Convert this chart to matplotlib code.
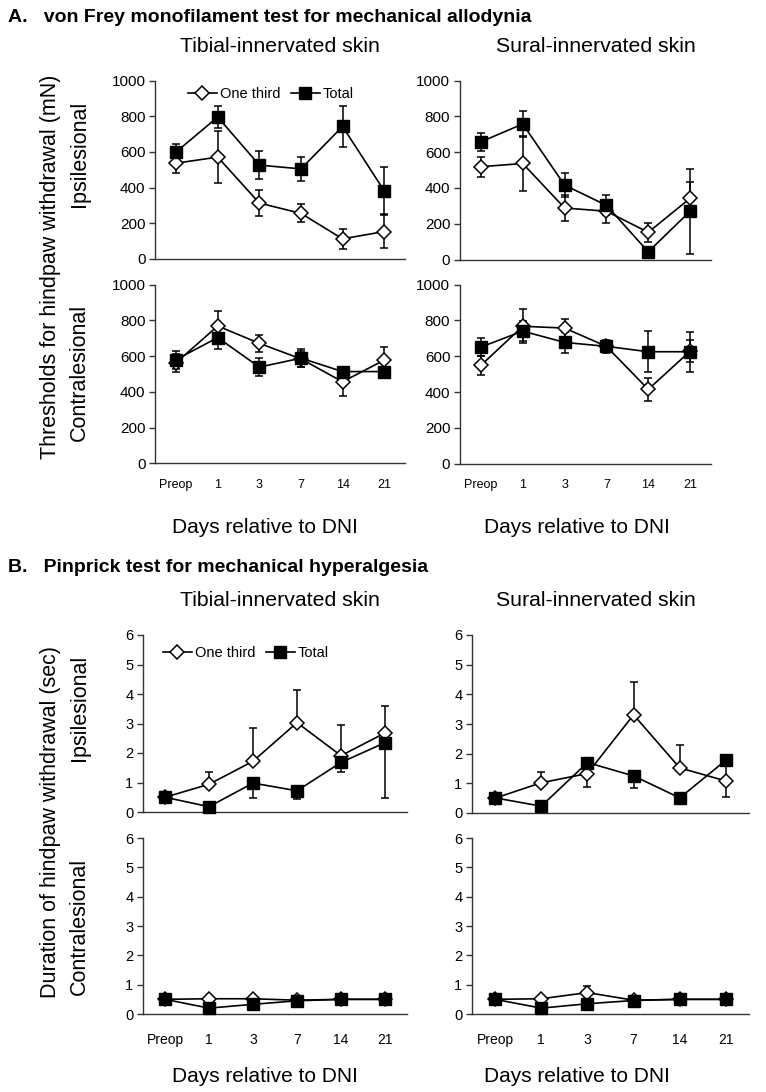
import numpy as np
import matplotlib
matplotlib.use("Agg")
import matplotlib.pyplot as plt
from matplotlib.lines import Line2D

plt.rcParams['font.family'] = ['Liberation Sans', 'DejaVu Sans']

# ---------------- data ----------------
x_labels = ["Preop", "1", "3", "7", "14", "21"]
series_names = ["One third", "Total"]

# A. von Frey (mN), symmetric SEM
a_tib_ipsi_third = [537, 571, 313, 255, 112, 153]
a_tib_ipsi_third_err = [56, 145, 71, 50, 56, 92]
a_tib_ipsi_total = [600, 796, 526, 505, 743, 382]
a_tib_ipsi_total_err = [47, 64, 77, 66, 116, 133]

a_sur_ipsi_third = [519, 537, 288, 270, 152, 342]
a_sur_ipsi_third_err = [56, 152, 74, 65, 52, 89]
a_sur_ipsi_total = [658, 758, 416, 303, 43, 270]
a_sur_ipsi_total_err = [52, 75, 68, 56, 0, 237]

a_tib_contra_third = [563, 768, 671, 584, 456, 577]
a_tib_contra_third_err = [50, 84, 49, 45, 78, 76]
a_tib_contra_total = [580, 703, 538, 588, 513, 513]
a_tib_contra_total_err = [50, 61, 52, 52, 0, 0]

a_sur_contra_third = [549, 767, 757, 655, 415, 628]
a_sur_contra_third_err = [54, 95, 52, 35, 65, 60]
a_sur_contra_total = [651, 740, 677, 655, 625, 625]
a_sur_contra_total_err = [50, 56, 60, 30, 113, 112]

# B. Pinprick (sec), visible error directions
b_tib_ipsi_third = [0.5, 0.94, 1.72, 3.03, 1.91, 2.68]
b_tib_ipsi_third_lo = [0, 0, 0, 0, 0, 0]
b_tib_ipsi_third_hi = [0, 0.42, 1.13, 1.1, 1.05, 0.9]
b_tib_ipsi_total = [0.5, 0.18, 0.98, 0.72, 1.68, 2.35]
b_tib_ipsi_total_lo = [0, 0, 0.51, 0.28, 0.34, 1.87]
b_tib_ipsi_total_hi = [0, 0, 0, 0, 0, 0]

b_sur_ipsi_third = [0.5, 1.02, 1.33, 3.31, 1.52, 1.08]
b_sur_ipsi_third_lo = [0, 0, 0.44, 0, 0, 0.55]
b_sur_ipsi_third_hi = [0, 0.37, 0.44, 1.11, 0.78, 0.5]
b_sur_ipsi_total = [0.51, 0.23, 1.7, 1.25, 0.51, 1.78]
b_sur_ipsi_total_lo = [0, 0, 0, 0.42, 0, 0]
b_sur_ipsi_total_hi = [0, 0, 0, 0, 0, 0]

b_tib_contra_third = [0.5, 0.52, 0.52, 0.47, 0.5, 0.5]
b_tib_contra_third_lo = [0, 0, 0, 0, 0, 0]
b_tib_contra_third_hi = [0, 0, 0, 0, 0, 0]
b_tib_contra_total = [0.5, 0.2, 0.33, 0.45, 0.5, 0.5]
b_tib_contra_total_lo = [0, 0, 0, 0, 0, 0]
b_tib_contra_total_hi = [0, 0, 0, 0, 0, 0]

b_sur_contra_third = [0.5, 0.52, 0.73, 0.47, 0.5, 0.5]
b_sur_contra_third_lo = [0, 0, 0, 0, 0, 0]
b_sur_contra_third_hi = [0, 0, 0.24, 0, 0, 0]
b_sur_contra_total = [0.5, 0.2, 0.35, 0.46, 0.5, 0.5]
b_sur_contra_total_lo = [0, 0, 0, 0, 0, 0]
b_sur_contra_total_hi = [0, 0, 0, 0, 0, 0]

a_yticks = [0, 200, 400, 600, 800, 1000]
b_yticks = [0, 1, 2, 3, 4, 5, 6]

# ---------------- figure ----------------
W, H = 766, 1092
fig = plt.figure(figsize=(W / 100, H / 100), dpi=100)
SPINE = '#333333'


def add_ax(x0, x1, ytop, ybot):
    return fig.add_axes([x0 / W, 1 - ybot / H, (x1 - x0) / W, (ybot - ytop) / H])


def ftext(x, y, s, **kw):
    fig.text(x / W, 1 - y / H, s, **kw)


def errbars(ax, x, y, lo, hi):
    x = np.asarray(x, float)
    y = np.asarray(y, float)
    lo = np.asarray(lo, float)
    hi = np.asarray(hi, float)
    m = lo > 0
    if m.any():
        ax.errorbar(x[m], y[m], yerr=[lo[m], np.zeros(m.sum())], fmt='none',
                    ecolor='black', elinewidth=1.1, capsize=3.2, capthick=1.1,
                    zorder=2, clip_on=False)
    m = hi > 0
    if m.any():
        ax.errorbar(x[m], y[m], yerr=[np.zeros(m.sum()), hi[m]], fmt='none',
                    ecolor='black', elinewidth=1.1, capsize=3.2, capthick=1.1,
                    zorder=2, clip_on=False)


def panel(ax, third, t_lo, t_hi, total, s_lo, s_hi, yticks, ymax,
          show_x, xfs, xpad, yfs):
    x = np.arange(len(x_labels))
    errbars(ax, x, third, t_lo, t_hi)
    errbars(ax, x, total, s_lo, s_hi)
    ax.plot(x, third, '-', color='black', lw=1.2, marker='D', ms=7.0,
            mfc='white', mec='black', mew=1.1, zorder=3, clip_on=False,
            label=series_names[0])
    ax.plot(x, total, '-', color='black', lw=1.2, marker='s', ms=8.4,
            mfc='black', mec='black', mew=1.0, zorder=4, clip_on=False,
            label=series_names[1])
    ax.set_xlim(-0.5, 5.5)
    ax.set_ylim(0, ymax)
    ax.set_yticks(yticks)
    ax.set_yticklabels([str(v) for v in yticks], fontsize=yfs)
    for s in ['top', 'right']:
        ax.spines[s].set_visible(False)
    for s in ['left', 'bottom']:
        ax.spines[s].set_color(SPINE)
        ax.spines[s].set_linewidth(1.0)
    ax.tick_params(axis='y', direction='out', length=4, width=1.0,
                   color=SPINE, pad=3, labelcolor='black')
    ax.set_xticks(x)
    if show_x:
        ax.set_xticklabels(x_labels, fontsize=xfs)
    else:
        ax.set_xticklabels([])
    ax.tick_params(axis='x', length=0, pad=xpad)


def legend(ax, x_frac, y_frac):
    h = [Line2D([], [], color='black', lw=1.2, marker='D', ms=7.0, mfc='white',
                mec='black', mew=1.1),
         Line2D([], [], color='black', lw=1.2, marker='s', ms=8.4, mfc='black',
                mec='black')]
    ax.legend(h, series_names, loc='center left', bbox_to_anchor=(x_frac, y_frac),
              ncol=2, frameon=False, fontsize=10.5, handlelength=2.0,
              handletextpad=0.2, columnspacing=0.7, borderaxespad=0,
              borderpad=0)


# Panel A axes
axA = [add_ax(155.3, 405, 80.7, 258.8), add_ax(460, 711, 80.7, 259.5),
       add_ax(155.3, 405, 284.5, 463.3), add_ax(460, 711, 284.5, 463.8)]
panel(axA[0], a_tib_ipsi_third, a_tib_ipsi_third_err, a_tib_ipsi_third_err,
      a_tib_ipsi_total, a_tib_ipsi_total_err, a_tib_ipsi_total_err,
      a_yticks, 1000, False, 9, 11, 11)
panel(axA[1], a_sur_ipsi_third, a_sur_ipsi_third_err, a_sur_ipsi_third_err,
      a_sur_ipsi_total, a_sur_ipsi_total_err, a_sur_ipsi_total_err,
      a_yticks, 1000, False, 9, 11, 11)
panel(axA[2], a_tib_contra_third, a_tib_contra_third_err, a_tib_contra_third_err,
      a_tib_contra_total, a_tib_contra_total_err, a_tib_contra_total_err,
      a_yticks, 1000, True, 9, 11, 11)
panel(axA[3], a_sur_contra_third, a_sur_contra_third_err, a_sur_contra_third_err,
      a_sur_contra_total, a_sur_contra_total_err, a_sur_contra_total_err,
      a_yticks, 1000, True, 9, 11, 11)
legend(axA[0], 0.13, 0.925)

# Panel B axes
axB = [add_ax(143, 407, 635, 812), add_ax(472, 749, 635, 813),
       add_ax(143, 407, 838, 1014), add_ax(472, 749, 838, 1014)]
panel(axB[0], b_tib_ipsi_third, b_tib_ipsi_third_lo, b_tib_ipsi_third_hi,
      b_tib_ipsi_total, b_tib_ipsi_total_lo, b_tib_ipsi_total_hi,
      b_yticks, 6, False, 10, 14, 10.5)
panel(axB[1], b_sur_ipsi_third, b_sur_ipsi_third_lo, b_sur_ipsi_third_hi,
      b_sur_ipsi_total, b_sur_ipsi_total_lo, b_sur_ipsi_total_hi,
      b_yticks, 6, False, 10, 14, 10.5)
panel(axB[2], b_tib_contra_third, b_tib_contra_third_lo, b_tib_contra_third_hi,
      b_tib_contra_total, b_tib_contra_total_lo, b_tib_contra_total_hi,
      b_yticks, 6, True, 10, 14, 10.5)
panel(axB[3], b_sur_contra_third, b_sur_contra_third_lo, b_sur_contra_third_hi,
      b_sur_contra_total, b_sur_contra_total_lo, b_sur_contra_total_hi,
      b_yticks, 6, True, 10, 14, 10.5)
legend(axB[0], 0.075, 0.9)

# ---------------- texts ----------------
ftext(8, 18, "A.   von Frey monofilament test for mechanical allodynia",
      fontsize=14, fontweight='bold', ha='left', va='center')
ftext(8, 567, "B.   Pinprick test for mechanical hyperalgesia",
      fontsize=14, fontweight='bold', ha='left', va='center')

for y in (47, 601):
    ftext(280, y, "Tibial-innervated skin", fontsize=15.3, ha='center', va='center')
    ftext(596, y, "Sural-innervated skin", fontsize=15.3, ha='center', va='center')

for y in (527, 1076):
    ftext(265, y, "Days relative to DNI", fontsize=15, ha='center', va='center')
    ftext(577, y, "Days relative to DNI", fontsize=15, ha='center', va='center')

ftext(51, 267, "Thresholds for hindpaw withdrawal (mN)", fontsize=15.5,
      rotation=90, ha='center', va='center')
ftext(79, 154, "Ipsilesional", fontsize=15.5, rotation=90, ha='center', va='center')
ftext(79, 372, "Contralesional", fontsize=15.5, rotation=90, ha='center', va='center')

ftext(51, 822, "Duration of hindpaw withdrawal (sec)", fontsize=15.5,
      rotation=90, ha='center', va='center')
ftext(79, 708, "Ipsilesional", fontsize=15.5, rotation=90, ha='center', va='center')
ftext(79, 926, "Contralesional", fontsize=15.5, rotation=90, ha='center', va='center')

fig.savefig("out.png", dpi=100)
